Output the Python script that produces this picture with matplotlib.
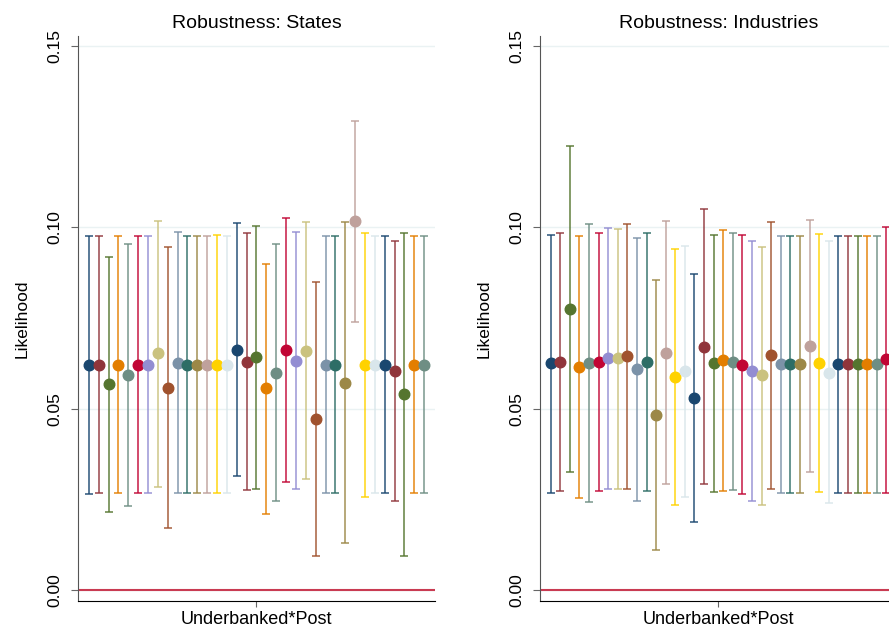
import numpy as np
import matplotlib
matplotlib.use("Agg")
import matplotlib.pyplot as plt

plt.rcParams['font.family'] = ['Liberation Sans', 'DejaVu Sans']

# Stata s2color cycle
palette = ['#1a476f', '#90353b', '#55752f', '#e37e00', '#6e8e84',
           '#c10534', '#938dd2', '#cac27e', '#a0522d', '#7b92a8',
           '#2d6d66', '#9c8847', '#bfa19c', '#ffd200', '#d9e6eb']

# point estimates and 95% CI bounds, one entry per robustness spec
states_est = [0.0621, 0.0622, 0.0568, 0.0622, 0.0593, 0.0622, 0.0622, 0.0653, 0.0558,
              0.0627, 0.0622, 0.0622, 0.0622, 0.0622, 0.0622, 0.0662, 0.0630, 0.0642,
              0.0556, 0.0599, 0.0662, 0.0632, 0.0660, 0.0471, 0.0622, 0.0622, 0.0572,
              0.1017, 0.0622, 0.0622, 0.0622, 0.0605, 0.0540, 0.0622, 0.0622]
states_lo = [0.0264, 0.0267, 0.0216, 0.0267, 0.0233, 0.0267, 0.0267, 0.0285, 0.0170,
             0.0267, 0.0267, 0.0267, 0.0267, 0.0267, 0.0267, 0.0314, 0.0276, 0.0279,
             0.0211, 0.0245, 0.0299, 0.0278, 0.0306, 0.0095, 0.0267, 0.0267, 0.0131,
             0.0740, 0.0257, 0.0267, 0.0267, 0.0246, 0.0095, 0.0267, 0.0267]
states_hi = [0.0976, 0.0977, 0.0919, 0.0977, 0.0954, 0.0977, 0.0977, 0.1019, 0.0945,
             0.0988, 0.0977, 0.0977, 0.0977, 0.0979, 0.0977, 0.1011, 0.0984, 0.1004,
             0.0899, 0.0954, 0.1025, 0.0988, 0.1014, 0.0849, 0.0977, 0.0977, 0.1014,
             0.1293, 0.0985, 0.0977, 0.0977, 0.0963, 0.0984, 0.0977, 0.0977]

ind_est = [0.0625, 0.0628, 0.0774, 0.0614, 0.0625, 0.0628, 0.0639, 0.0639, 0.0645,
           0.0609, 0.0630, 0.0483, 0.0655, 0.0588, 0.0604, 0.0531, 0.0671, 0.0625,
           0.0634, 0.0630, 0.0621, 0.0604, 0.0593, 0.0648, 0.0623, 0.0623, 0.0623,
           0.0673, 0.0627, 0.0600, 0.0623, 0.0623, 0.0623, 0.0623, 0.0623, 0.0636]
ind_lo = [0.0269, 0.0274, 0.0325, 0.0255, 0.0242, 0.0274, 0.0279, 0.0280, 0.0280,
          0.0246, 0.0274, 0.0112, 0.0294, 0.0236, 0.0257, 0.0188, 0.0292, 0.0271,
          0.0273, 0.0276, 0.0264, 0.0246, 0.0236, 0.0280, 0.0267, 0.0267, 0.0267,
          0.0325, 0.0271, 0.0239, 0.0267, 0.0267, 0.0267, 0.0267, 0.0267, 0.0269]
ind_hi = [0.0979, 0.0984, 0.1225, 0.0976, 0.1009, 0.0984, 0.0999, 0.0997, 0.1009,
          0.0972, 0.0986, 0.0855, 0.1019, 0.0940, 0.0950, 0.0873, 0.1051, 0.0979,
          0.0993, 0.0985, 0.0979, 0.0962, 0.0947, 0.1016, 0.0977, 0.0977, 0.0977,
          0.1020, 0.0981, 0.0962, 0.0977, 0.0977, 0.0977, 0.0977, 0.0977, 0.1000]

yticks = [0.00, 0.05, 0.10, 0.15]
coef_label = 'Underbanked*Post'

fig = plt.figure(figsize=(8.89, 6.31), dpi=100)
ax1 = fig.add_axes([0.0877, 0.0475, 0.4016, 0.8955])
ax2 = fig.add_axes([0.6074, 0.0475, 0.4016, 0.8955])


def coef_panel(ax, est, lo, hi, title):
    n = len(est)
    x = np.arange(n)
    for i in range(n):
        c = palette[i % len(palette)]
        ax.errorbar(x[i], est[i], yerr=[[est[i] - lo[i]], [hi[i] - est[i]]],
                    fmt='none', ecolor=c, elinewidth=1.2, capsize=2.9,
                    capthick=1.2, alpha=0.85, zorder=3)
        ax.plot(x[i], est[i], 'o', color=c, markersize=7.6, zorder=4)
    ax.axhline(0, color='#c93b52', lw=1.5, zorder=2)
    ax.set_ylim(-0.0030, 0.1528)
    ax.set_xlim(-1.1, n - 1 + 1.1)
    ax.set_yticks(yticks)
    ax.set_yticklabels([f'{t:.2f}' for t in yticks])
    ax.yaxis.grid(True, color='#eaf2f3', lw=1.0)
    ax.set_axisbelow(True)
    ax.set_xticks([x.mean()])
    ax.set_xticklabels([coef_label])
    ax.set_title(title, fontsize=14, pad=6)
    ax.set_ylabel('Likelihood', fontsize=12.5, labelpad=13)
    ax.tick_params(axis='y', labelrotation=90, labelsize=12.5, length=5,
                   color='#666666', pad=6)
    for lab in ax.get_yticklabels():
        lab.set_va('center')
    ax.tick_params(axis='x', labelsize=13, length=4, color='#666666', pad=3)
    ax.spines['top'].set_visible(False)
    ax.spines['right'].set_visible(False)
    ax.spines['left'].set_color('#555555')
    ax.spines['bottom'].set_color('black')


coef_panel(ax1, states_est, states_lo, states_hi, 'Robustness: States')
coef_panel(ax2, ind_est, ind_lo, ind_hi, 'Robustness: Industries')

fig.savefig('out.png', dpi=100)
